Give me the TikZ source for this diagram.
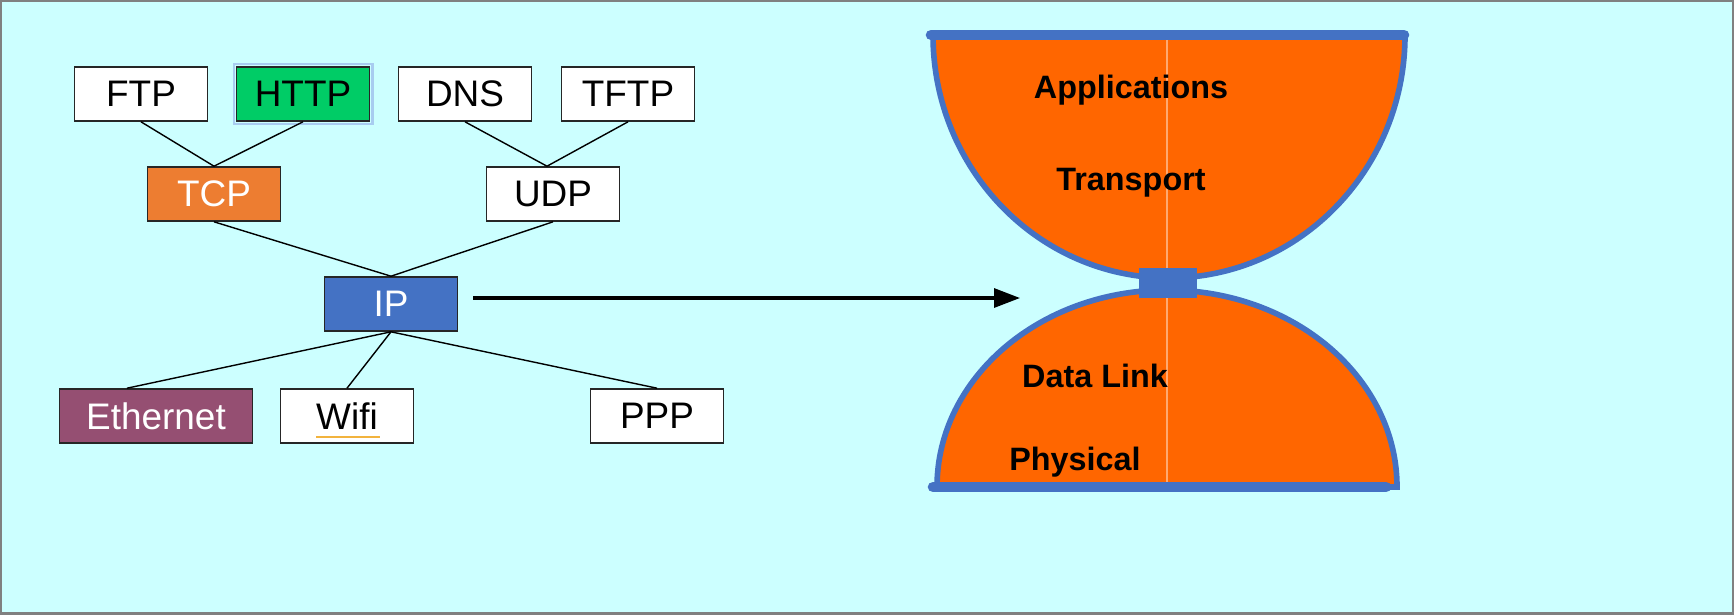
\documentclass[tikz,border=0pt]{standalone}
\usepackage{fontspec}
\setmainfont{Liberation Sans}
\usetikzlibrary{arrows.meta}

\definecolor{bgcyan}{HTML}{CCFFFF}
\definecolor{httpgreen}{HTML}{00CC66}
\definecolor{httpglow}{HTML}{A8CCF0}
\definecolor{tcporange}{HTML}{ED7D31}
\definecolor{ipblue}{HTML}{4472C4}
\definecolor{ethviolet}{HTML}{954F72}
\definecolor{glassorange}{HTML}{FF6600}
\definecolor{seamline}{HTML}{FFA970}
\definecolor{wifimark}{HTML}{F2B33D}

\tikzset{
	proto/.style={draw=black!85,line width=0.45pt,fill=white,
		minimum width=1.33cm,minimum height=0.54cm,inner sep=0pt,
		font=\fontsize{10.5}{12}\selectfont},
	link/.style={black,line width=0.4pt},
	layer/.style={font=\fontsize{9.2}{11}\selectfont\bfseries},
	glass/.style={fill=glassorange,draw=ipblue,line width=1.6pt}
}

\begin{document}
\begin{tikzpicture}[x=0.01cm,y=0.01cm]
\useasboundingbox (0,0) rectangle (1734,614);
\fill[bgcyan] (0,0) rectangle (1734,614);
\draw[gray,line width=0.6pt] (0.5,0.5) rectangle (1733.5,613.5);

%Protokolle
\node[proto] (FTP) at (141,520) {FTP};
\node[proto,fill=httpgreen] (HTTP) at (303,520) {HTTP};
\draw[httpglow,line width=0.6pt] ([shift={(-0.6pt,0.6pt)}]HTTP.north west) rectangle ([shift={(0.6pt,-0.6pt)}]HTTP.south east);
\node[proto] (DNS) at (465,520) {DNS};
\node[proto] (TFTP) at (628,520) {TFTP};
\node[proto,fill=tcporange,text=white] (TCP) at (214,420) {TCP};
\node[proto] (UDP) at (553,420) {UDP};
\node[proto,fill=ipblue,text=white] (IP) at (391,310) {IP};
\node[proto,minimum width=1.93cm,fill=ethviolet,text=white] (Ethernet) at (156,198) {Ethernet};
\node[proto] (Wifi) at (347,198) {Wifi};
\node[proto] (PPP) at (657,198) {PPP};
\draw[wifimark,line width=0.6pt] (316,177)--(380,177);

\draw[link] (FTP.south)--(TCP.north);
\draw[link] (HTTP.south)--(TCP.north);
\draw[link] (DNS.south)--([xshift=-0.06cm]UDP.north);
\draw[link] (TFTP.south)--([xshift=-0.06cm]UDP.north);
\draw[link] (TCP.south)--(IP.north);
\draw[link] (UDP.south)--(IP.north);
\draw[link] (IP.south)--([xshift=-0.29cm]Ethernet.north);
\draw[link] (IP.south)--(Wifi.north);
\draw[link] (IP.south)--(PPP.north);

%Pfeil
\coordinate (ipout) at (473,316);
\coordinate (glass) at (1020,316);
\draw[black,line width=0.9pt,-{Triangle[length=0.26cm,width=0.19cm]}] (ipout)--(glass);

%Sanduhr
\filldraw[glass] (933,579) arc[start angle=180,end angle=360,x radius=236,y radius=243]--cycle;
\filldraw[glass] (937,127) arc[start angle=180,end angle=0,x radius=230,y radius=197]--cycle;
\draw[seamline,line width=0.3pt] (1167,575)--(1167,131);
\draw[ipblue,line width=3pt,line cap=round] (931,579)--(1404,579);
\draw[ipblue,line width=3pt,line cap=round] (933,127)--(1386,127);
\fill[ipblue] (1139,316) rectangle (1197,346);

\node[layer] (apps) at (1131,524) {Applications};
\node[layer] (trans) at (1131,431) {Transport};
\node[layer] (dlink) at (1095,238) {Data Link};
\node[layer] (phys) at (1075,152) {Physical};
\end{tikzpicture}
\end{document}
